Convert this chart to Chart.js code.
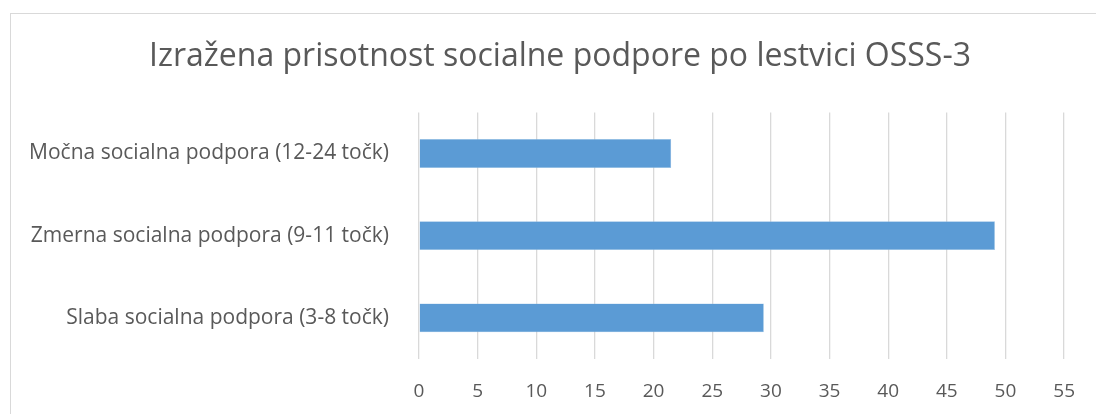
<!DOCTYPE html>
<html>
<head>
<meta charset="utf-8">
<script src="https://cdn.jsdelivr.net/npm/chart.js@4"></script>
<style>
  html, body { margin: 0; padding: 0; background: #ffffff; }
  #wrap { position: relative; width: 1096px; height: 414px; overflow: hidden; }
  #frame { position: absolute; left: 10px; top: 13px; width: 1100px; height: 500px; border: 1px solid #d9d9d9; box-sizing: border-box; }
  #c { position: absolute; left: 0; top: 0; }
</style>
</head>
<body>
<div id="wrap">
  <div id="frame"></div>
  <canvas id="c" width="1096" height="414"></canvas>
</div>
<script>
const titleText = "Izražena prisotnost socialne podpore po lestvici OSSS-3";
const categories = [
  "Močna socialna podpora (12-24 točk)",
  "Zmerna socialna podpora (9-11 točk)",
  "Slaba socialna podpora (3-8 točk)"
];
const values = [21.5, 49.1, 29.4];
const axisMin = 0;
const axisMax = 55;
const axisStep = 5;

const FONT = "'Open Sans', 'Noto Sans', sans-serif";
const GREY = '#595959';

// centre the title over the whole (wider) chart frame, as in the reference
const titleShift = {
  id: 'titleShift',
  afterLayout(chart) {
    const t = chart.titleBlock;
    if (t) { t.left = 54; t.right = 1066; t.width = t.right - t.left; }
  }
};

new Chart(document.getElementById('c'), {
  type: 'bar',
  data: {
    labels: categories,
    datasets: [{
      data: values,
      backgroundColor: '#5B9BD5',
      borderColor: '#9DC3E6',
      borderWidth: 0.5,
      categoryPercentage: 1.0,
      barPercentage: 0.35
    }]
  },
  plugins: [titleShift],
  options: {
    indexAxis: 'y',
    responsive: false,
    animation: false,
    layout: { padding: { left: 0, right: 27, top: 0, bottom: 0 } },
    plugins: {
      legend: { display: false },
      tooltip: { enabled: false },
      title: {
        display: true,
        text: titleText,
        color: GREY,
        font: { family: FONT, size: 32, weight: 'normal' },
        padding: { top: 38, bottom: 36 }
      }
    },
    scales: {
      x: {
        min: axisMin,
        max: axisMax,
        ticks: {
          stepSize: axisStep,
          color: GREY,
          font: { family: FONT, size: 19 },
          padding: 21
        },
        grid: { color: '#d9d9d9', lineWidth: 1.3, drawTicks: false },
        border: { display: false },
        afterFit: s => { s.height = 55; }
      },
      y: {
        ticks: {
          color: GREY,
          font: { family: FONT, size: 21 },
          padding: 30
        },
        grid: { display: false, drawTicks: false },
        border: { display: false },
        afterFit: s => { s.width = 419; }
      }
    }
  }
});
</script>
</body>
</html>
